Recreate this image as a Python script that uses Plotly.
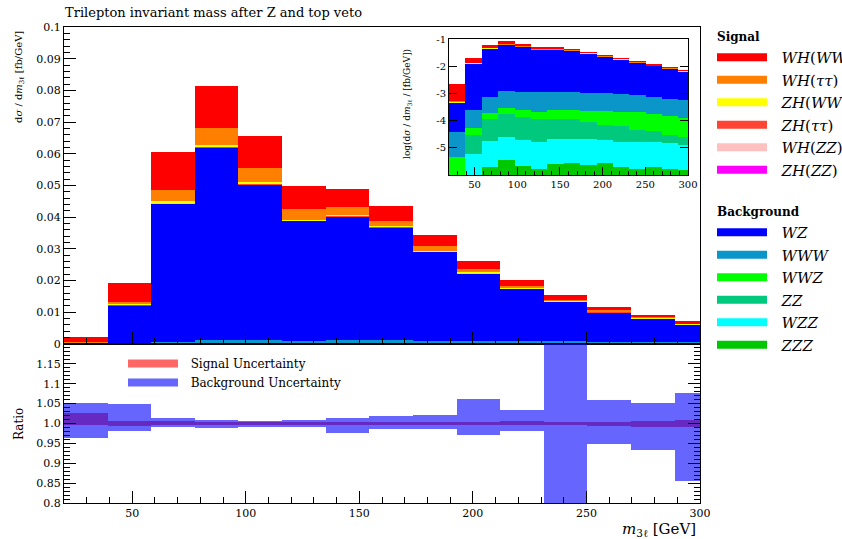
import plotly.graph_objects as go

# ---------------- data ----------------
bin_start = 20.0
bin_width = 19.2
n_bins = 15
centers = [bin_start + bin_width * (i + 0.5) for i in range(n_bins)]

# backgrounds (fb/GeV)
ZZZ = [0, 0, 1.9e-6, 3.7e-6, 2.1e-6, 1.7e-6, 2.6e-6, 2.8e-6, 2.4e-6, 2.8e-6, 2.0e-6, 1.7e-6, 2.0e-6, 1.7e-6, 1.5e-6]
WZZ = [0, 5.9e-6, 1.63e-5, 2.2e-5, 1.74e-5, 1.41e-5, 1.93e-5, 1.91e-5, 1.85e-5, 1.63e-5, 1.50e-5, 1.53e-5, 1.38e-5, 1.28e-5, 1.17e-5]
ZZ = [0, 2.43e-5, 9.9e-5, 1.56e-4, 1.16e-4, 9.6e-5, 8.8e-5, 9.0e-5, 7.0e-5, 5.0e-5, 4.9e-5, 2.8e-5, 2.6e-5, 1.57e-5, 1.19e-5]
WWZ = [4.7e-6, 2.48e-5, 6.9e-5, 1.06e-4, 1.05e-4, 1.02e-4, 1.41e-4, 1.39e-4, 1.43e-4, 1.50e-4, 1.43e-4, 1.55e-4, 1.28e-4, 1.15e-4, 9.8e-5]
WWW = [3.25e-5, 1.96e-4, 5.73e-4, 9.4e-4, 9.1e-4, 8.9e-4, 8.7e-4, 8.7e-4, 8.2e-4, 7.8e-4, 7.5e-4, 6.7e-4, 5.9e-4, 4.9e-4, 4.3e-4]
WZ = [3.9e-4, 0.01205, 0.04364, 0.0607, 0.0491, 0.0377, 0.0391, 0.0356, 0.0281, 0.0213, 0.01645, 0.01253, 0.00924, 0.00737, 0.00565]

# signals (fb/GeV)
ZH_ZZ = [0.000005, 0.00004, 0.00005, 0.00008, 0.00005, 0.00004, 0.00004, 0.00004, 0.00003, 0.00004, 0.00004, 0.00002, 0.00002, 0.00002, 0.00002]
WH_ZZ = [0.00001, 0.00005, 0.0001, 0.00012, 0.0001, 0.00006, 0.00006, 0.00006, 0.00004, 0.00006, 0.00006, 0.00003, 0.00003, 0.00003, 0.00003]
ZH_tautau = [0.000015, 0.00009, 0.00015, 0.0002, 0.00015, 0.0001, 0.0001, 0.0001, 0.00008, 0.0001, 0.0001, 0.00005, 0.00005, 0.00005, 0.00005]
ZH_WW = [0.00002, 0.0002, 0.0004, 0.0004, 0.0004, 0.0002, 0.0002, 0.0002, 0.00015, 0.0001, 0.0001, 0.0001, 0.0001, 0.0001, 0.0001]
WH_tautau = [0.00005, 0.0007, 0.0036, 0.0055, 0.0046, 0.0035, 0.0026, 0.0018, 0.0014, 0.0011, 0.0007, 0.0004, 0.0004, 0.0004, 0.0002]
WH_WW = [0.0016, 0.0060, 0.0119, 0.0133, 0.0101, 0.0071, 0.0056, 0.0046, 0.0034, 0.0025, 0.0018, 0.0015, 0.0011, 0.0007, 0.0006]

# ratio uncertainty bands
bkg_hi = [1.052, 1.050, 1.013, 1.008, 1.006, 1.008, 1.013, 1.020, 1.022, 1.062, 1.033, 1.25, 1.060, 1.052, 1.077]
bkg_lo = [0.964, 0.981, 0.992, 0.988, 0.990, 0.991, 0.976, 0.985, 0.985, 0.971, 0.980, 0.75, 0.949, 0.934, 0.855]
sig_hi = [1.027, 1.006, 1.005, 1.004, 1.004, 1.004, 1.004, 1.004, 1.004, 1.004, 1.005, 1.004, 1.004, 1.007, 1.008]
sig_lo = [0.995, 0.993, 0.995, 0.995, 0.995, 0.995, 0.995, 0.995, 0.995, 0.995, 0.995, 0.995, 0.994, 0.992, 0.992]

main_yticks = [0, 0.01, 0.02, 0.03, 0.04, 0.05, 0.06, 0.07, 0.08, 0.09, 0.1]
inset_yticks = [1e-5, 1e-4, 1e-3, 1e-2, 1e-1]
inset_yticktext = ["-5", "-4", "-3", "-2", "-1"]

# stacking order: bottom -> top
layers = [
    ("<i>ZZZ</i>", ZZZ, "#00c800"),
    ("<i>WZZ</i>", WZZ, "#00ffff"),
    ("<i>ZZ</i>", ZZ, "#00c87d"),
    ("<i>WWZ</i>", WWZ, "#00ff00"),
    ("<i>WWW</i>", WWW, "#0a96c8"),
    ("<i>WZ</i>", WZ, "#0000ff"),
    ("<i>ZH</i>(<i>ZZ</i>)", ZH_ZZ, "#ff00ff"),
    ("<i>WH</i>(<i>ZZ</i>)", WH_ZZ, "#ffc0c0"),
    ("<i>ZH</i>(<i>ττ</i>)", ZH_tautau, "#ff4433"),
    ("<i>ZH</i>(<i>WW</i>)", ZH_WW, "#ffff00"),
    ("<i>WH</i>(<i>ττ</i>)", WH_tautau, "#ff8000"),
    ("<i>WH</i>(<i>WW</i>)", WH_WW, "#ff0000"),
]

FONT = "DejaVu Serif"
fig = go.Figure()

# main stacked histogram
cum = [0.0] * n_bins
cums = []
for name, vals, col in layers:
    fig.add_trace(go.Bar(x=centers, y=vals, base=list(cum), width=bin_width,
                         marker=dict(color=col, line=dict(width=0)),
                         showlegend=False, xaxis="x", yaxis="y"))
    cum = [c + v for c, v in zip(cum, vals)]
    cums.append(list(cum))

# inset (log) : overlay cumulative totals, top layer first
for (name, vals, col), c in reversed(list(zip(layers, cums))):
    fig.add_trace(go.Bar(x=centers, y=c, width=bin_width,
                         marker=dict(color=col, line=dict(width=0)),
                         showlegend=False, xaxis="x3", yaxis="y3"))

# ratio bands
fig.add_trace(go.Bar(x=centers, y=[h - l for h, l in zip(sig_hi, sig_lo)], base=sig_lo,
                     width=bin_width, marker=dict(color="rgba(255,0,0,0.6)", line=dict(width=0)),
                     showlegend=False, xaxis="x2", yaxis="y2"))
fig.add_trace(go.Bar(x=centers, y=[h - l for h, l in zip(bkg_hi, bkg_lo)], base=bkg_lo,
                     width=bin_width, marker=dict(color="rgba(0,0,255,0.6)", line=dict(width=0)),
                     showlegend=False, xaxis="x2", yaxis="y2"))

# legend entries (main)
sig_order = ["<i>WH</i>(<i>WW</i>)", "<i>WH</i>(<i>ττ</i>)", "<i>ZH</i>(<i>WW</i>)",
             "<i>ZH</i>(<i>ττ</i>)", "<i>WH</i>(<i>ZZ</i>)", "<i>ZH</i>(<i>ZZ</i>)"]
bkg_order = ["<i>WZ</i>", "<i>WWW</i>", "<i>WWZ</i>", "<i>ZZ</i>", "<i>WZZ</i>", "<i>ZZZ</i>"]
colmap = {n: c for n, v, c in layers}
PAD = "&nbsp;&nbsp;"
for n in sig_order:
    fig.add_trace(go.Scatter(x=[None], y=[None], mode="lines", name=PAD + n,
                             line=dict(color=colmap[n], width=8),
                             legendgroup="sig", legendgrouptitle=dict(text="<b>Signal</b>"),
                             xaxis="x", yaxis="y", legend="legend"))
for n in bkg_order:
    fig.add_trace(go.Scatter(x=[None], y=[None], mode="lines", name=PAD + n,
                             line=dict(color=colmap[n], width=8),
                             legendgroup="bkg", legendgrouptitle=dict(text="<b>Background</b>"),
                             xaxis="x", yaxis="y", legend="legend"))
# ratio legend
fig.add_trace(go.Scatter(x=[None], y=[None], mode="lines", name=PAD + "Signal Uncertainty",
                         line=dict(color="#ff6666", width=8), xaxis="x2", yaxis="y2", legend="legend2"))
fig.add_trace(go.Scatter(x=[None], y=[None], mode="lines", name=PAD + "Background Uncertainty",
                         line=dict(color="#6666ff", width=8), xaxis="x2", yaxis="y2", legend="legend2"))

W, H = 842, 539
L, T = 64, 27
R = W - 700
B = H - 503
ph = H - T - B
pw = W - L - R
split = (503 - 344) / ph

def px2x(p):  # page pixel -> paper x
    return (p - L) / pw

def px2y(p):  # page pixel -> paper y
    return (H - B - p) / ph

def fnt(size):
    return dict(family=FONT, size=size, color="black")

axcommon = dict(showline=True, linecolor="black", linewidth=1, ticks="inside",
                tickcolor="black", showgrid=False, zeroline=False, tickfont=fnt(11))

fig.update_layout(
    width=W, height=H,
    margin=dict(l=L, r=R, t=T, b=B, autoexpand=False),
    paper_bgcolor="white", plot_bgcolor="white",
    barmode="overlay", bargap=0,
    font=dict(family=FONT, color="black"),
    title=dict(text="Trilepton invariant mass after Z and top veto",
               x=65 / W, xanchor="left", y=1 - 12 / H, yanchor="middle", font=fnt(13)),
    xaxis=dict(domain=[0, 1], range=[20, 300], anchor="y", showticklabels=False,
               tick0=0, dtick=50, ticklen=12, mirror=True,
               minor=dict(ticks="inside", tick0=0, dtick=10, ticklen=6, tickcolor="black"),
               **axcommon),
    yaxis=dict(domain=[split, 1], range=[0, 0.1], anchor="x", tickmode="array",
               tickvals=main_yticks, ticklen=12, mirror=True,
               minor=dict(ticks="inside", tick0=0, dtick=0.002, ticklen=6, tickcolor="black"),
               **axcommon),
    xaxis2=dict(domain=[0, 1], range=[20, 300], anchor="y2", tick0=0, dtick=50, ticklen=12,
                mirror=True,
                minor=dict(ticks="inside", tick0=0, dtick=10, ticklen=6, tickcolor="black"),
                **axcommon),
    yaxis2=dict(domain=[0, split], range=[0.8, 1.1999], anchor="x2", tick0=0.8, dtick=0.05,
                ticklen=12, mirror="ticks", labelalias={"1": "1.0"},
                minor=dict(ticks="inside", tick0=0.8, dtick=0.01, ticklen=6, tickcolor="black"),
                **axcommon),
    xaxis3=dict(domain=[px2x(449), px2x(688)], range=[20, 300], anchor="y3", tick0=0, dtick=50,
                ticklen=8, mirror=True,
                minor=dict(ticks="inside", tick0=0, dtick=10, ticklen=4, tickcolor="black"),
                **{**axcommon, "tickfont": fnt(10)}),
    yaxis3=dict(domain=[px2y(175), px2y(39)], type="log", range=[-6, -1], anchor="x3",
                tickmode="array", tickvals=inset_yticks, ticktext=inset_yticktext,
                ticklen=8, mirror="ticks",
                **{**axcommon, "tickfont": fnt(10)}),
    legend=dict(x=px2x(712), y=px2y(22), xanchor="left", yanchor="top", itemwidth=50,
                font=fnt(15), tracegroupgap=21, grouptitlefont=fnt(12),
                bgcolor="rgba(0,0,0,0)", traceorder="grouped", itemclick=False,
                maxheight=1000),
    legend2=dict(x=px2x(123), y=px2y(349), xanchor="left", yanchor="top", itemwidth=50,
                 font=fnt(12), bgcolor="rgba(0,0,0,0)"),
)

fig.add_annotation(text="d<i>σ</i> / d<i>m</i><sub>3ℓ</sub> [fb/GeV]", textangle=-90,
                   xref="paper", yref="paper", x=px2x(19), y=px2y(29), xanchor="center", yanchor="top",
                   showarrow=False, font=fnt(10))
fig.add_annotation(text="Ratio", textangle=-90,
                   xref="paper", yref="paper", x=px2x(19), y=px2y(424), xanchor="center", yanchor="middle",
                   showarrow=False, font=fnt(12))
fig.add_annotation(text="<i>m</i><sub>3ℓ</sub> [GeV]",
                   xref="paper", yref="paper", x=px2x(698), y=px2y(529), xanchor="right", yanchor="middle",
                   showarrow=False, font=fnt(15))
fig.add_annotation(text="log(d<i>σ</i> / d<i>m</i><sub>3ℓ</sub> / [fb/GeV])", textangle=-90,
                   xref="paper", yref="paper", x=px2x(408), y=px2y(104), xanchor="center", yanchor="middle",
                   showarrow=False, font=fnt(9))

fig.write_html("out.html", post_script="document.body.style.margin='0';",
               config={"displayModeBar": False})
